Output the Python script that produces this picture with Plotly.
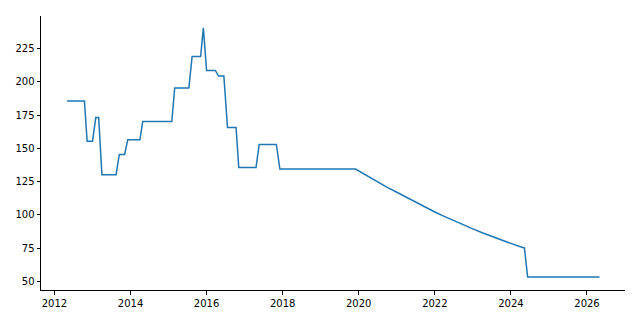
import plotly.graph_objects as go

dates = [
    "2012-05-01", "2012-10-15", "2012-11-10", "2013-01-01", "2013-02-01",
    "2013-03-01", "2013-04-01", "2013-08-15", "2013-09-15", "2013-11-05",
    "2013-12-05", "2014-04-01", "2014-04-28", "2015-02-01", "2015-03-01",
    "2015-07-15", "2015-08-15", "2015-11-05", "2015-12-01", "2016-01-01",
    "2016-03-25", "2016-04-25", "2016-06-15", "2016-07-20", "2016-10-10",
    "2016-11-05", "2017-04-20", "2017-05-20", "2017-11-01", "2017-12-05",
    "2019-12-01", "2020-01-01", "2020-04-01", "2020-07-01", "2020-10-01",
    "2021-01-01", "2021-04-01", "2021-07-01", "2021-10-01", "2022-01-01",
    "2022-04-01", "2022-07-01", "2022-10-01", "2023-01-01", "2023-04-01",
    "2023-07-01", "2023-10-01", "2024-01-01", "2024-04-01", "2024-05-10",
    "2024-06-10", "2026-05-01",
]
values = [
    185.6, 185.6, 155.4, 155.4, 173.1,
    173.1, 130.2, 130.2, 145.4, 145.4,
    156.4, 156.4, 170.2, 170.2, 195.3,
    195.3, 219.0, 219.0, 240.5, 208.5,
    208.5, 204.3, 204.3, 165.6, 165.6,
    135.7, 135.7, 152.9, 152.9, 134.4,
    134.4, 133.0, 128.7, 124.6, 120.7,
    117.0, 113.2, 109.4, 105.8, 102.2,
    98.9, 95.6, 92.5, 89.5, 86.6,
    83.8, 81.1, 78.6, 76.1, 75.2,
    53.4, 53.4,
]
y_ticks = [50, 75, 100, 125, 150, 175, 200, 225]

fig = go.Figure()
fig.add_trace(go.Scatter(
    x=dates, y=values, mode="lines",
    line=dict(color="#1f77b4", width=1.5),
    showlegend=False,
))

axis_common = dict(
    showgrid=False, zeroline=False, showline=True, linecolor="black",
    linewidth=1, ticks="outside", ticklen=3.5, tickwidth=1, tickcolor="black",
    tickfont=dict(family="DejaVu Sans", size=10, color="black"), mirror=False,
)
fig.update_xaxes(
    type="date", range=["2011-08-25", "2027-01-01"],
    tickformat="%Y", dtick="M24", tick0="2012-01-01", **axis_common,
)
fig.update_yaxes(
    range=[43.6, 249.4], tickmode="array", tickvals=y_ticks,
    ticktext=[str(v) for v in y_ticks], **axis_common,
)
fig.update_layout(
    width=640, height=320,
    margin=dict(l=41, r=15, t=16, b=30),
    plot_bgcolor="white", paper_bgcolor="white",
)
fig.write_html("out.html")
